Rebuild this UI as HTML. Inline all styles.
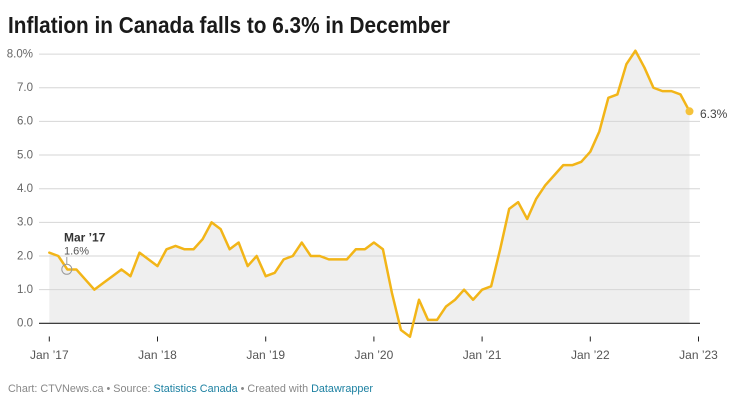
<!DOCTYPE html>
<html>
<head>
<meta charset="utf-8">
<style>
  html,body{margin:0;padding:0;background:#fff;}
  svg{display:block;font-family:"Liberation Sans",Arial,sans-serif;}
</style>
</head>
<body>
<svg width="735" height="406" viewBox="0 0 735 406" xmlns="http://www.w3.org/2000/svg">
  <rect width="735" height="406" fill="#fff"/>
  <!-- Title -->
  <text x="8" y="33" font-size="23" font-weight="bold" fill="#1a1a1a" textLength="442" lengthAdjust="spacingAndGlyphs">Inflation in Canada falls to 6.3% in December</text>

  <!-- Area fill -->
  <g transform="translate(49.3,323.3) scale(9.017,-33.65)">
    <polygon fill="#efefef" stroke="none" points="0,0 0,2.1 1,2.0 2,1.6 3,1.6 4,1.3 5,1.0 6,1.2 7,1.4 8,1.6 9,1.4 10,2.1 11,1.9 12,1.7 13,2.2 14,2.3 15,2.2 16,2.2 17,2.5 18,3.0 19,2.8 20,2.2 21,2.4 22,1.7 23,2.0 24,1.4 25,1.5 26,1.9 27,2.0 28,2.4 29,2.0 30,2.0 31,1.9 32,1.9 33,1.9 34,2.2 35,2.2 36,2.4 37,2.2 38,0.9 38.818,0 40.364,0 41,0.7 42,0.1 43,0.1 44,0.5 45,0.7 46,1.0 47,0.7 48,1.0 49,1.1 50,2.2 51,3.4 52,3.6 53,3.1 54,3.7 55,4.1 56,4.4 57,4.7 58,4.7 59,4.8 60,5.1 61,5.7 62,6.7 63,6.8 64,7.7 65,8.1 66,7.6 67,7.0 68,6.9 69,6.9 70,6.8 71,6.3 71,0"/>
  </g>

  <!-- Gridlines -->
  <g stroke="#d6d6d6" stroke-width="1">
    <line x1="39" x2="700" y1="54.1" y2="54.1"/>
    <line x1="39" x2="700" y1="87.75" y2="87.75"/>
    <line x1="39" x2="700" y1="121.4" y2="121.4"/>
    <line x1="39" x2="700" y1="155.05" y2="155.05"/>
    <line x1="39" x2="700" y1="188.7" y2="188.7"/>
    <line x1="39" x2="700" y1="222.35" y2="222.35"/>
    <line x1="39" x2="700" y1="256.0" y2="256.0"/>
    <line x1="39" x2="700" y1="289.65" y2="289.65"/>
  </g>
  <line x1="39" x2="700" y1="323.3" y2="323.3" stroke="#222" stroke-width="1.2"/>

  <!-- Y labels -->
  <g font-size="11.5" fill="#666" text-anchor="end" dominant-baseline="central">
    <text x="33" y="54.5">8.0%</text>
    <text x="33" y="88">7.0</text>
    <text x="33" y="121.7">6.0</text>
    <text x="33" y="155.3">5.0</text>
    <text x="33" y="189">4.0</text>
    <text x="33" y="222.6">3.0</text>
    <text x="33" y="256.3">2.0</text>
    <text x="33" y="290">1.0</text>
    <text x="33" y="323.6">0.0</text>
  </g>

  <!-- X ticks -->
  <g stroke="#222" stroke-width="1">
    <line x1="49.3" x2="49.3" y1="336.5" y2="341.5"/>
    <line x1="157.5" x2="157.5" y1="336.5" y2="341.5"/>
    <line x1="265.7" x2="265.7" y1="336.5" y2="341.5"/>
    <line x1="373.9" x2="373.9" y1="336.5" y2="341.5"/>
    <line x1="482.1" x2="482.1" y1="336.5" y2="341.5"/>
    <line x1="590.3" x2="590.3" y1="336.5" y2="341.5"/>
    <line x1="698.5" x2="698.5" y1="336.5" y2="341.5"/>
  </g>
  <g font-size="12" fill="#555" text-anchor="middle" dominant-baseline="central">
    <text x="49.3" y="355">Jan ’17</text>
    <text x="157.5" y="355">Jan ’18</text>
    <text x="265.7" y="355">Jan ’19</text>
    <text x="373.9" y="355">Jan ’20</text>
    <text x="482.1" y="355">Jan ’21</text>
    <text x="590.3" y="355">Jan ’22</text>
    <text x="698.5" y="355">Jan ’23</text>
  </g>

  <!-- Line -->
  <g transform="translate(49.3,323.3) scale(9.017,-33.65)">
    <polyline fill="none" stroke="#f2b518" stroke-width="2.5" stroke-linejoin="round" stroke-linecap="round" vector-effect="non-scaling-stroke" points="0,2.1 1,2.0 2,1.6 3,1.6 4,1.3 5,1.0 6,1.2 7,1.4 8,1.6 9,1.4 10,2.1 11,1.9 12,1.7 13,2.2 14,2.3 15,2.2 16,2.2 17,2.5 18,3.0 19,2.8 20,2.2 21,2.4 22,1.7 23,2.0 24,1.4 25,1.5 26,1.9 27,2.0 28,2.4 29,2.0 30,2.0 31,1.9 32,1.9 33,1.9 34,2.2 35,2.2 36,2.4 37,2.2 38,0.9 39,-0.2 40,-0.4 41,0.7 42,0.1 43,0.1 44,0.5 45,0.7 46,1.0 47,0.7 48,1.0 49,1.1 50,2.2 51,3.4 52,3.6 53,3.1 54,3.7 55,4.1 56,4.4 57,4.7 58,4.7 59,4.8 60,5.1 61,5.7 62,6.7 63,6.8 64,7.7 65,8.1 66,7.6 67,7.0 68,6.9 69,6.9 70,6.8 71,6.3"/>
  </g>

  <!-- End dot + label -->
  <circle cx="689.5" cy="111.3" r="4" fill="#f5c23a"/>
  <text x="700" y="114" font-size="12" fill="#444" dominant-baseline="central">6.3%</text>

  <!-- Annotation -->
  <circle cx="66.8" cy="269.3" r="5" fill="none" stroke="#999" stroke-width="1"/>
  <line x1="66.8" x2="66.8" y1="264.3" y2="257" stroke="#999" stroke-width="1"/>
  <text x="64" y="241.5" font-size="12" font-weight="bold" fill="#333">Mar ’17</text>
  <text x="64" y="254.5" font-size="11" fill="#555">1.6%</text>

  <!-- Footer -->
  <text x="8" y="392" font-size="11" fill="#888" textLength="365" lengthAdjust="spacingAndGlyphs">Chart: CTVNews.ca • Source: <tspan fill="#1d81a2">Statistics Canada</tspan> • Created with <tspan fill="#1d81a2">Datawrapper</tspan></text>
</svg>
</body>
</html>
